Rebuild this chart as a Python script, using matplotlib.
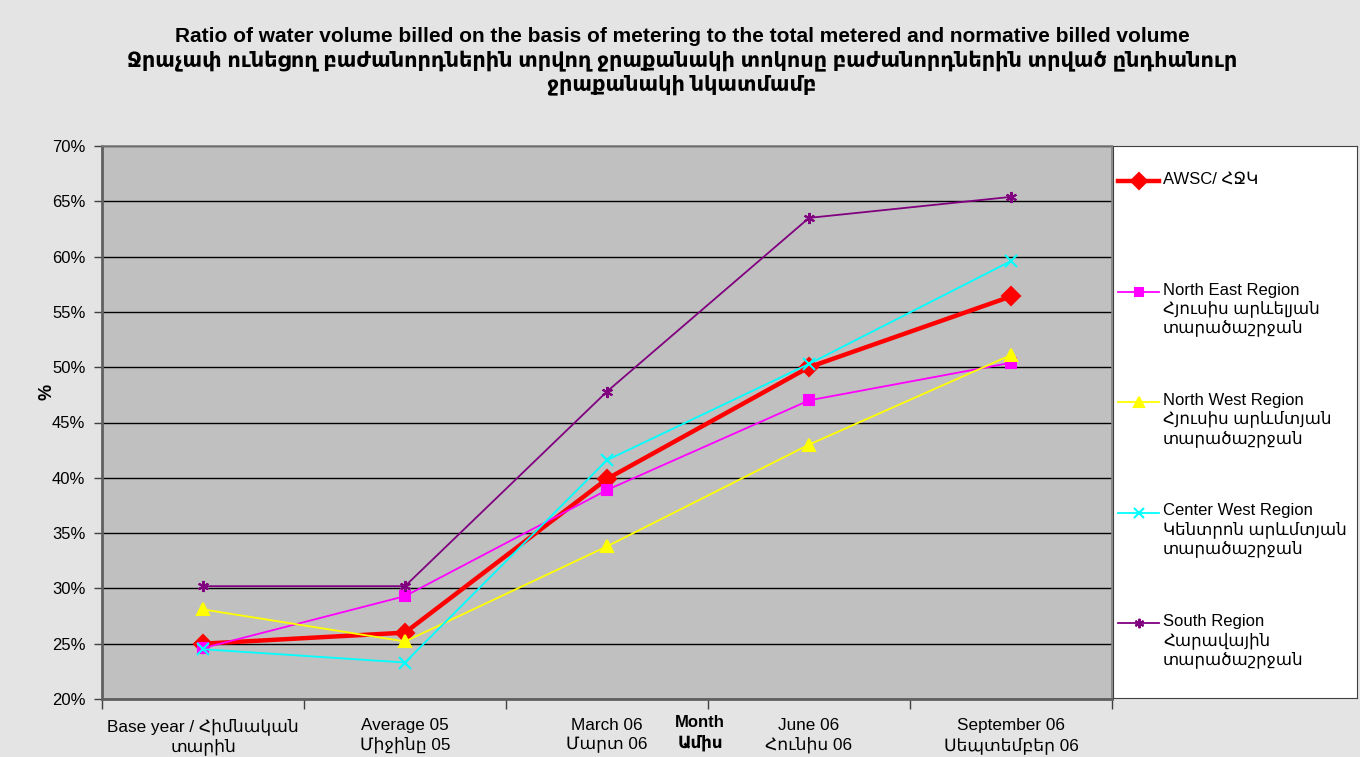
import numpy as np
import matplotlib.pyplot as plt
from matplotlib.ticker import FixedLocator, PercentFormatter

# data to plot
categories = ['Base year / Հիմնական\nտարին', 'Average 05\nՄիջինը 05', 'March 06\nՄարտ 06',
              'June 06\nՀունիս 06', 'September 06\nՍեպտեմբեր 06']

awsc = [25.0, 26.0, 39.9, 50.0, 56.4]
north_east = [24.6, 29.3, 38.9, 47.0, 50.4]
north_west = [28.1, 25.2, 33.8, 43.0, 51.1]
center_west = [24.5, 23.3, 41.6, 50.3, 59.6]
south = [30.2, 30.2, 47.8, 63.5, 65.4]

series = [awsc, north_east, north_west, center_west, south]
labels = ['AWSC/ ՀՋԿ',
          'North East Region\nՀյուսիս արևելյան\nտարածաշրջան',
          'North West Region\nՀյուսիս արևմտյան\nտարածաշրջան',
          'Center West Region\nԿենտրոն արևմտյան\nտարածաշրջան',
          'South Region\nՀարավային\nտարածաշրջան']
colors = ['#ff0000', '#ff00ff', '#ffff00', '#00ffff', '#800080']
markers = ['D', 's', '^', 'x', (6, 2, 0)]
msizes = [9, 7, 8, 8, 8]
lwidths = [3.2, 1.3, 1.3, 1.3, 1.3]

title = ('Ratio of water volume billed on the basis of metering to the total metered and normative billed volume\n'
         'Ջրաչափ ունեցող բաժանորդներին տրվող ջրաքանակի տոկոսը բաժանորդներին տրված ընդհանուր\n'
         'ջրաքանակի նկատմամբ')

fam = ['Liberation Sans', 'DejaVu Sans']
plt.rcParams['font.family'] = fam

W, H = 1360, 757
fig = plt.figure(figsize=(W / 100, H / 100), dpi=100)
fig.patch.set_facecolor('#e4e4e4')

ax = fig.add_axes([102 / W, 1 - 699 / H, 1010 / W, 553 / H])
ax.set_facecolor('#c0c0c0')
index = np.arange(len(categories))

for vals, c, m, ms, lw in zip(series, colors, markers, msizes, lwidths):
    ax.plot(index, vals, color=c, marker=m, markersize=ms, linewidth=lw,
            markeredgecolor=c, markeredgewidth=1.5, zorder=3)

ax.set_xlim(-0.5, len(categories) - 0.5)
ax.set_ylim(20, 70)
ax.set_yticks(np.arange(20, 71, 5))
ax.yaxis.set_major_formatter(PercentFormatter(decimals=0))
ax.grid(axis='y', color='black', linewidth=1.0, zorder=1)
ax.set_axisbelow(True)

ax.set_xticks(index)
ax.set_xticklabels(categories, fontsize=12.3, linespacing=1.25)
ax.xaxis.set_minor_locator(FixedLocator(np.arange(-0.5, len(categories), 1)))
ax.tick_params(axis='x', which='major', length=0, pad=14)
ax.tick_params(axis='x', which='minor', length=7, width=1, color='#404040', direction='out')
ax.tick_params(axis='y', length=6, width=1, color='#404040', direction='out', labelsize=12, pad=6)

for s in ax.spines.values():
    s.set_color('#808080')
    s.set_linewidth(1.2)
ax.spines['left'].set_linewidth(2)
ax.spines['bottom'].set_linewidth(2)
ax.spines['left'].set_color('#606060')
ax.spines['bottom'].set_color('#606060')

fig.text(700 / W, 1 - 733 / H, 'Month\nԱմիս', ha='center', va='center', fontsize=12,
         fontweight='bold', linespacing=1.3)
fig.text(47 / W, 1 - 392 / H, '%', ha='center', va='center', rotation=90,
         fontsize=13, fontweight='bold')
fig.text(682 / W, 1 - 61 / H, title, ha='center', va='center', fontsize=15,
         fontweight='bold', linespacing=1.2)

# legend box
lax = fig.add_axes([1113 / W, 1 - 698 / H, 244 / W, 552 / H])
lax.set_xlim(0, 1)
lax.set_ylim(0, 1)
lax.set_xticks([])
lax.set_yticks([])
for s in lax.spines.values():
    s.set_color('#404040')
for i, (lab, c, m, ms, lw) in enumerate(zip(labels, colors, markers, msizes, lwidths)):
    y = 1 - (35 + i * 110.5) / 552
    lax.plot([0.02, 0.19], [y, y], color=c, linewidth=lw)
    lax.plot([0.105], [y], color=c, marker=m, markersize=ms * 0.85,
             markeredgecolor=c, markeredgewidth=1.5)
    lax.text(0.205, y + 9 / 552, lab, ha='left', va='top', fontsize=12,
             linespacing=1.2)

plt.savefig('out.png', dpi=100, facecolor=fig.get_facecolor())
